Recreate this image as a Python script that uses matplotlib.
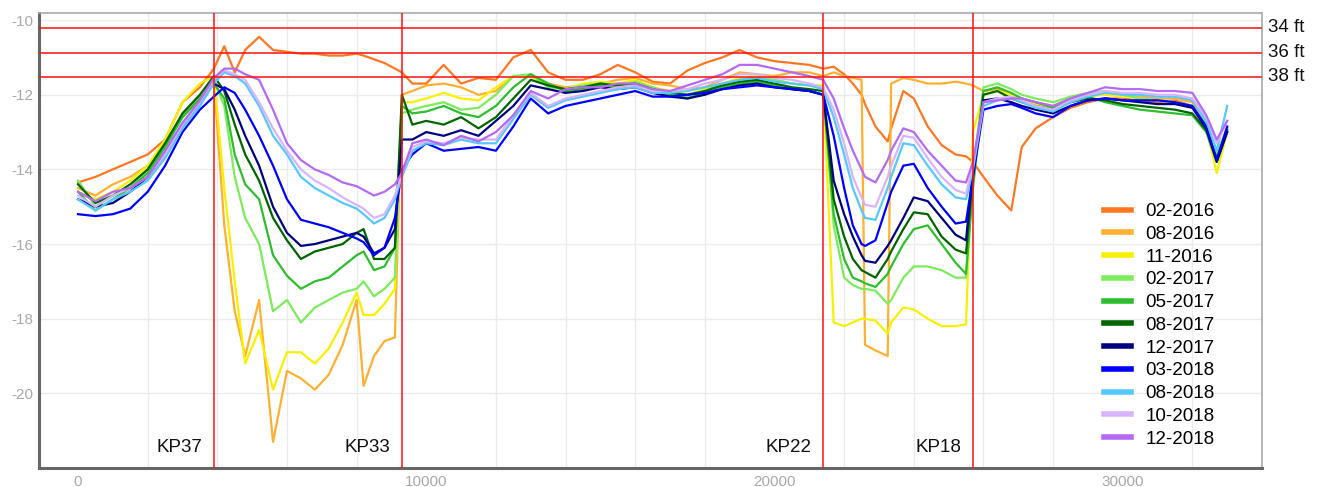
import matplotlib
matplotlib.use("Agg")
import matplotlib.pyplot as plt

plt.rcParams['font.family'] = ['Liberation Sans', 'DejaVu Sans']

# distance along the channel (common sample points for every survey)
dist = [0, 500, 1000, 1500, 2000, 2500, 3000, 3500, 3900,
        4200, 4500, 4800, 5200, 5600, 6000, 6400, 6800, 7200, 7600, 8000, 8200, 8500, 8800, 9100, 9300,
        9600, 10000, 10500, 11000, 11500, 12000, 12500, 13000, 13500, 14000, 14500, 15000, 15500, 16000,
        16500, 17000, 17500, 18000, 18500, 19000, 19500, 20000, 20500, 21000, 21400,
        21700, 22000, 22250, 22500, 22600, 22900, 23250, 23350, 23700, 24000, 24400, 24800, 25200, 25500, 25700,
        26000, 26400, 26800, 27100, 27500, 28000, 28500, 29000, 29500, 30000, 30500, 31000, 31500, 32000,
        32400, 32700, 33000]

s_02_2016 = [-14.35, -14.2, -14.0, -13.8, -13.6, -13.2, -12.2, -11.8, -11.3,
             -10.7, -11.4, -10.8, -10.45, -10.8, -10.85, -10.9, -10.9, -10.95, -10.95, -10.9, -10.95, -11.05, -11.15, -11.3, -11.4,
             -11.7, -11.7, -11.2, -11.7, -11.55, -11.6, -11.0, -10.8, -11.4, -11.6, -11.6, -11.45, -11.2, -11.4,
             -11.65, -11.7, -11.35, -11.15, -11.0, -10.8, -11.0, -11.1, -11.15, -11.2, -11.3,
             -11.25, -11.45, -11.7, -12.0, -12.25, -12.85, -13.25, -12.9, -11.9, -12.1, -12.85, -13.35, -13.6, -13.65, -13.8,
             -14.2, -14.7, -15.1, -13.4, -12.9, -12.6, -12.35, -12.2, -12.1, -12.1, -12.15, -12.2, -12.15, -12.3,
             -12.9, -13.6, -12.9]
s_08_2016 = [-14.5, -14.7, -14.4, -14.2, -13.9, -13.4, -12.5, -12.0, -11.6,
             -15.5, -17.8, -19.0, -17.5, -21.3, -19.4, -19.6, -19.9, -19.5, -18.7, -17.5, -19.8, -19.0, -18.6, -18.5, -12.0,
             -11.9, -11.75, -11.7, -11.8, -12.0, -11.9, -11.5, -11.5, -11.7, -11.8, -11.75, -11.7, -11.6, -11.55,
             -11.7, -11.75, -11.85, -11.8, -11.6, -11.4, -11.45, -11.5, -11.4, -11.4, -11.5,
             -11.4, -11.5, -11.55, -11.6, -18.7, -18.85, -19.0, -11.7, -11.55, -11.6, -11.7, -11.7, -11.65, -11.7, -11.75,
             -11.9, -11.85, -12.0, -12.1, -12.2, -12.3, -12.1, -12.0, -11.95, -12.0, -12.05, -12.1, -12.1, -12.2,
             -12.8, -13.7, -12.9]
s_11_2016 = [-14.6, -14.8, -14.6, -14.3, -13.9, -13.2, -12.2, -11.7, -11.5,
             -14.5, -17.0, -19.2, -18.3, -19.9, -18.9, -18.9, -19.2, -18.8, -18.1, -17.3, -17.9, -17.9, -17.6, -17.2, -12.2,
             -12.2, -12.1, -11.95, -12.1, -12.15, -11.8, -11.5, -11.5, -11.75, -11.85, -11.7, -11.65, -11.7, -11.6,
             -11.8, -11.9, -12.0, -11.85, -11.7, -11.55, -11.5, -11.6, -11.7, -11.75, -11.75,
             -18.1, -18.2, -18.1, -18.0, -18.0, -18.05, -18.4, -18.1, -17.7, -17.75, -18.0, -18.2, -18.2, -18.15, -13.0,
             -12.0, -11.9, -12.0, -12.15, -12.25, -12.4, -12.15, -12.05, -12.0, -12.05, -12.1, -12.15, -12.2, -12.3,
             -12.9, -14.1, -13.0]
s_02_2017 = [-14.3, -15.0, -14.7, -14.5, -14.0, -13.3, -12.6, -12.1, -11.6,
             -12.3, -14.2, -15.3, -16.0, -17.8, -17.5, -18.1, -17.7, -17.5, -17.3, -17.2, -17.0, -17.4, -17.2, -16.9, -12.5,
             -12.4, -12.3, -12.2, -12.4, -12.35, -12.0, -11.5, -11.45, -11.8, -11.85, -11.75, -11.7, -11.75, -11.65,
             -11.8, -11.95, -12.05, -11.9, -11.7, -11.6, -11.55, -11.6, -11.7, -11.75, -11.8,
             -15.5, -16.9, -17.1, -17.2, -17.2, -17.25, -17.6, -17.5, -16.9, -16.6, -16.6, -16.7, -16.9, -16.9, -14.0,
             -11.8, -11.7, -11.85, -12.0, -12.1, -12.2, -12.05, -11.95, -11.9, -12.0, -12.1, -12.15, -12.2, -12.3,
             -12.8, -13.6, -12.9]
s_05_2017 = [-14.6, -15.1, -14.8, -14.5, -14.1, -13.4, -12.6, -12.1, -11.7,
             -12.1, -13.6, -14.4, -14.8, -16.3, -16.85, -17.2, -17.0, -16.9, -16.6, -16.3, -16.2, -16.7, -16.6, -16.1, -12.3,
             -12.5, -12.45, -12.3, -12.5, -12.6, -12.3, -11.8, -11.45, -11.7, -11.9, -11.85, -11.75, -11.8, -11.75,
             -11.9, -12.0, -12.1, -11.95, -11.8, -11.7, -11.65, -11.75, -11.85, -11.9, -12.0,
             -15.2, -16.4, -16.9, -17.0, -17.05, -17.15, -16.8, -16.6, -16.0, -15.6, -15.5, -16.0, -16.5, -16.8, -14.5,
             -11.9, -11.8, -11.95, -12.1, -12.2, -12.35, -12.15, -12.05, -12.2, -12.3, -12.4, -12.45, -12.5, -12.55,
             -13.0, -13.8, -13.0]
s_08_2017 = [-14.4, -14.9, -14.7, -14.4, -14.0, -13.3, -12.5, -12.0, -11.5,
             -11.9, -12.8, -13.6, -14.3, -15.3, -15.9, -16.4, -16.2, -16.1, -16.0, -15.7, -15.6, -16.4, -16.4, -16.1, -12.0,
             -12.8, -12.7, -12.8, -12.6, -12.9, -12.6, -12.1, -11.6, -11.75, -11.85, -11.8, -11.7, -11.75, -11.7,
             -11.85, -11.95, -12.0, -11.9, -11.75, -11.65, -11.6, -11.7, -11.8, -11.85, -11.9,
             -14.8, -15.8, -16.4, -16.7, -16.75, -16.9, -16.4, -16.2, -15.6, -15.15, -15.2, -15.8, -16.15, -16.25, -14.2,
             -12.0, -11.9, -12.1, -12.2, -12.3, -12.4, -12.2, -12.1, -12.15, -12.25, -12.3, -12.35, -12.4, -12.5,
             -12.95, -13.7, -12.95]
s_12_2017 = [-14.8, -15.0, -14.9, -14.6, -14.2, -13.6, -12.8, -12.2, -11.7,
             -11.85, -12.4, -13.1, -13.9, -15.0, -15.7, -16.05, -16.0, -15.9, -15.8, -15.7, -15.8, -16.25, -16.1, -15.6, -13.2,
             -13.2, -13.0, -13.1, -12.95, -13.1, -12.7, -12.3, -11.75, -11.85, -11.95, -11.9, -11.8, -11.85, -11.8,
             -11.95, -12.05, -12.1, -12.0, -11.85, -11.75, -11.7, -11.8, -11.85, -11.9, -12.0,
             -14.3, -15.2, -15.8, -16.3, -16.45, -16.5, -16.05, -15.9, -15.3, -14.75, -14.85, -15.3, -15.75, -15.9, -14.0,
             -12.15, -12.1, -12.2, -12.3, -12.4, -12.5, -12.3, -12.15, -12.1, -12.15, -12.2, -12.25, -12.25, -12.35,
             -12.9, -13.8, -13.0]
s_03_2018 = [-15.2, -15.25, -15.2, -15.05, -14.6, -13.9, -13.0, -12.4, -12.05,
             -11.8, -11.95, -12.4, -13.1, -13.9, -14.8, -15.35, -15.45, -15.55, -15.7, -15.85, -15.95, -16.3, -16.1, -15.3, -14.0,
             -13.6, -13.3, -13.5, -13.45, -13.4, -13.5, -12.85, -12.1, -12.5, -12.3, -12.2, -12.1, -12.0, -11.9,
             -12.05, -12.05, -12.0, -11.95, -11.85, -11.8, -11.75, -11.8, -11.85, -11.9, -12.0,
             -13.1, -14.5, -15.5, -16.0, -16.05, -15.9, -14.9, -14.6, -13.9, -13.85, -14.5, -15.0, -15.45, -15.4, -14.2,
             -12.4, -12.3, -12.25, -12.35, -12.5, -12.6, -12.3, -12.15, -12.1, -12.15, -12.15, -12.15, -12.2, -12.3,
             -12.85, -13.75, -12.85]
s_08_2018 = [-14.8, -15.1, -14.8, -14.6, -14.3, -13.7, -12.9, -12.3, -11.7,
             -11.4, -11.5, -11.7, -12.3, -13.1, -13.6, -14.2, -14.5, -14.7, -14.9, -15.05, -15.2, -15.45, -15.3, -14.8, -14.2,
             -13.5, -13.3, -13.35, -13.2, -13.3, -13.3, -12.65, -12.0, -12.35, -12.15, -12.05, -11.95, -11.85, -11.8,
             -11.95, -11.95, -11.9, -11.8, -11.7, -11.6, -11.55, -11.65, -11.7, -11.75, -11.85,
             -12.6, -13.6, -14.5, -15.1, -15.3, -15.35, -14.5, -14.2, -13.3, -13.35, -13.9, -14.4, -14.75, -14.8, -14.0,
             -12.3, -12.15, -12.1, -12.2, -12.35, -12.45, -12.2, -12.05, -11.95, -12.0, -12.0, -12.05, -12.05, -12.15,
             -12.7, -13.5, -12.3]
s_10_2018 = [-14.7, -15.0, -14.7, -14.5, -14.2, -13.6, -12.8, -12.2, -11.6,
             -11.35, -11.45, -11.6, -12.2, -12.9, -13.5, -14.0, -14.3, -14.5, -14.75, -14.95, -15.05, -15.3, -15.2, -14.7, -14.1,
             -13.4, -13.25, -13.3, -13.15, -13.2, -13.2, -12.55, -11.95, -12.3, -12.1, -12.0, -11.9, -11.8, -11.75,
             -11.9, -11.9, -11.85, -11.7, -11.6, -11.45, -11.45, -11.55, -11.6, -11.7, -11.8,
             -12.4, -13.3, -14.2, -14.75, -14.95, -15.0, -14.2, -13.9, -13.1, -13.15, -13.7, -14.2, -14.55, -14.65, -13.9,
             -12.2, -12.1, -12.05, -12.15, -12.3, -12.4, -12.15, -12.0, -11.9, -11.95, -11.95, -12.0, -12.0, -12.1,
             -12.6, -13.3, -12.7]
s_12_2018 = [-14.6, -14.85, -14.6, -14.5, -14.2, -13.5, -12.75, -12.15, -11.55,
             -11.3, -11.3, -11.45, -11.6, -12.4, -13.3, -13.75, -14.0, -14.15, -14.35, -14.45, -14.55, -14.7, -14.6, -14.4, -14.1,
             -13.3, -13.2, -13.35, -13.1, -13.25, -13.0, -12.55, -11.9, -12.1, -11.85, -11.8, -11.8, -11.7, -11.7,
             -11.85, -11.9, -11.75, -11.6, -11.45, -11.2, -11.2, -11.3, -11.4, -11.5, -11.6,
             -12.1, -12.9, -13.5, -14.0, -14.2, -14.35, -13.75, -13.5, -12.9, -13.0, -13.5, -13.9, -14.3, -14.35, -13.8,
             -12.2, -12.15, -12.1, -12.1, -12.2, -12.3, -12.1, -11.95, -11.8, -11.85, -11.85, -11.9, -11.9, -11.95,
             -12.55, -13.2, -12.7]

surveys = ['02-2016', '08-2016', '11-2016', '02-2017', '05-2017', '08-2017',
           '12-2017', '03-2018', '08-2018', '10-2018', '12-2018']
series = [s_02_2016, s_08_2016, s_11_2016, s_02_2017, s_05_2017, s_08_2017,
          s_12_2017, s_03_2018, s_08_2018, s_10_2018, s_12_2018]
colors = ['#FF7722', '#FFB030', '#F8F000', '#7CEB5C', '#2DBE2D', '#006400',
          '#000080', '#0000FF', '#55C8FF', '#D8B4FE', '#B56AF5']

# reference lines
kp_pos = [3900, 9300, 21400, 25700]
kp_names = ['KP37', 'KP33', 'KP22', 'KP18']
depth_lines = [-10.2, -10.87, -11.52]
depth_names = ['34 ft', '36 ft', '38 ft']

xtick_vals = [0, 10000, 20000, 30000]
xtick_labels = ['0', '10000', '20000', '30000']
ytick_vals = [-10, -12, -14, -16, -18, -20]
ytick_labels = ['-10', '-12', '-14', '-16', '-18', '-20']

fig = plt.figure(figsize=(13.23, 4.87), dpi=100)
ax = fig.add_axes([0.0295, 0.039, 0.9244, 0.9343])

for name, vals, c in zip(surveys, series, colors):
    ax.plot(dist, vals, color=c, lw=1.6, label=name, solid_joinstyle='round')

for y in depth_lines:
    ax.axhline(y, color='#FF1010', lw=1.1, zorder=5)
for x in kp_pos:
    ax.axvline(x, color='#FF1010', lw=1.1, zorder=5)

for x, name in zip(kp_pos, kp_names):
    ax.text(x - 330, -21.45, name, ha='right', va='center', fontsize=13.5, color='#111111')
for y, name in zip(depth_lines, depth_names):
    ax.text(1.005, y, name, transform=ax.get_yaxis_transform(), ha='left', va='center',
            fontsize=13.5, color='#111111', clip_on=False)

ax.set_xlim(-1120, 34000)
ax.set_ylim(-22, -9.81)
ax.set_xticks(xtick_vals)
ax.set_xticklabels(xtick_labels)
ax.set_yticks(ytick_vals)
ax.set_yticklabels(ytick_labels)
ax.set_xticks(range(0, 34001, 2000), minor=True)
ax.tick_params(which='both', length=0, labelsize=11, labelcolor='#a8a8a8')
ax.tick_params(axis='x', pad=5)
ax.tick_params(axis='y', pad=4)
ax.grid(which='minor', axis='x', color='#ebebeb', lw=1)
ax.grid(which='major', axis='y', color='#ebebeb', lw=1)
ax.set_axisbelow(True)

for side in ['left', 'bottom']:
    ax.spines[side].set_color('#666666')
    ax.spines[side].set_linewidth(2.2)
for side in ['top', 'right']:
    ax.spines[side].set_color('#aaaaaa')
    ax.spines[side].set_linewidth(1.2)

leg = ax.legend(loc='upper left', bbox_to_anchor=(1104 / 1323, 1 - 203 / 487),
                bbox_transform=fig.transFigure, frameon=False, fontsize=13.5,
                handlelength=1.45, handletextpad=0.75, labelspacing=0.3,
                borderpad=0, borderaxespad=0)
for h in leg.get_lines():
    h.set_linewidth(4)

fig.savefig('out.png', dpi=100)
